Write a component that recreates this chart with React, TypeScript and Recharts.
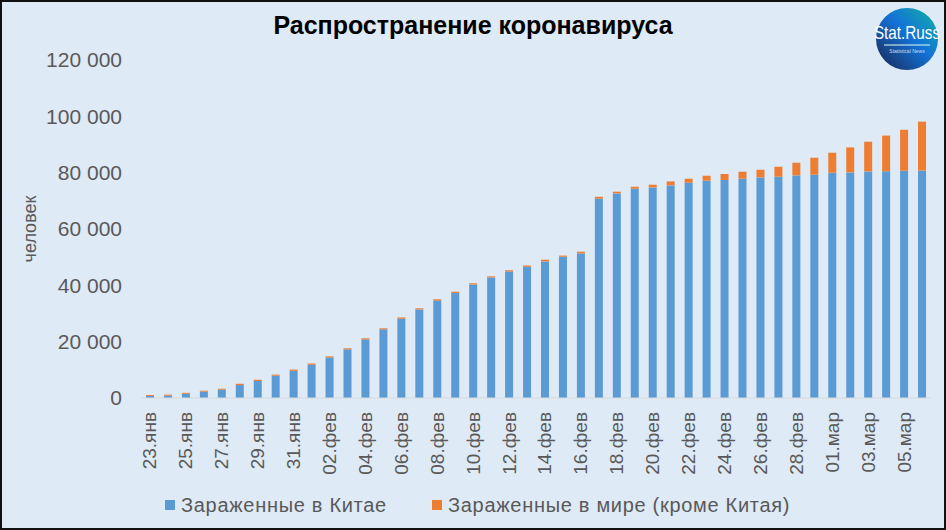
import React from 'react';
import { BarChart, Bar, XAxis, YAxis, Legend } from 'recharts';

// даты (23 янв – 06 мар 2020)
const dates = [
    '23.янв', '24.янв', '25.янв', '26.янв', '27.янв', '28.янв', '29.янв', '30.янв', '31.янв',
    '01.фев', '02.фев', '03.фев', '04.фев', '05.фев', '06.фев', '07.фев', '08.фев', '09.фев',
    '10.фев', '11.фев', '12.фев', '13.фев', '14.фев', '15.фев', '16.фев', '17.фев', '18.фев',
    '19.фев', '20.фев', '21.фев', '22.фев', '23.фев', '24.фев', '25.фев', '26.фев', '27.фев',
    '28.фев', '29.фев', '01.мар', '02.мар', '03.мар', '04.мар', '05.мар', '06.мар',
];

const chinaCases = [
    700, 850, 1500, 2240, 2950, 4600, 6030, 7900, 9650,
    11800, 14400, 17260, 20800, 24350, 28150, 31450, 34600, 37300,
    40330, 42810, 44940, 46600, 48500, 50160, 51340, 70750, 72640,
    74300, 74770, 75480, 76430, 77150, 77400, 77850, 78320, 78560,
    79030, 79270, 79980, 80100, 80450, 80500, 80690, 80720,
];

const worldCases = [
    350, 350, 350, 350, 350, 450, 450, 400, 450,
    450, 400, 400, 400, 400, 450, 400, 450, 450,
    400, 400, 400, 450, 600, 400, 600, 700, 600,
    710, 950, 1420, 1420, 1770, 2130, 2480, 2720, 3550,
    4500, 6030, 7100, 8870, 10530, 12660, 14550, 17390,
];

const yTicks = [0, 20000, 40000, 60000, 80000, 100000, 120000];

const data = dates.map((d, i) => ({ date: d, china: chinaCases[i], world: worldCases[i] }));

const FONT = '"Liberation Sans", Arial, sans-serif';
const GREY = '#595959';
const BLUE = '#5b9bd5';
const ORANGE = '#ed7d31';

const fmt = (v: number) => String(v).replace(/\B(?=(\d{3})+(?!\d))/g, ' ');

const DateTick = (props: any) => {
    const { x, y, payload } = props;
    return (
        <text
            x={x}
            y={y}
            transform={`rotate(-90 ${x} ${y})`}
            textAnchor="end"
            dominantBaseline="central"
            fontSize={19}
            fontFamily={FONT}
            fill={GREY}
        >
            {payload.value}
        </text>
    );
};

const YTitle = () => (
    <text
        x={30}
        y={229}
        transform="rotate(-90 30 229)"
        textAnchor="middle"
        dominantBaseline="central"
        fontSize={18}
        fontFamily={FONT}
        fill={GREY}
    >
        человек
    </text>
);

// легенда с позициями как в оригинале
const LegendBox = (props: any) => {
    const items = props.payload || [];
    const lefts = [165, 432];
    return (
        <div style={{ position: 'relative', height: 30, width: 946 }}>
            {items.map((it: any, i: number) => (
                <React.Fragment key={it.value}>
                    <div style={{ position: 'absolute', left: lefts[i], top: 10, width: 10, height: 10, background: it.color }} />
                    <div
                        style={{
                            position: 'absolute', left: lefts[i] + 16, top: 5, fontSize: 20, lineHeight: '20px',
                            color: GREY, letterSpacing: 0.7, whiteSpace: 'nowrap', fontFamily: FONT,
                        }}
                    >
                        {it.value}
                    </div>
                </React.Fragment>
            ))}
        </div>
    );
};

const Logo = () => (
    <svg width={66} height={66} style={{ position: 'absolute', left: 874, top: 6 }}>
        <defs>
            <linearGradient id="lg" x1="1" y1="0" x2="0" y2="1">
                <stop offset="0" stopColor="#12b3a0" />
                <stop offset="0.45" stopColor="#1273d8" />
                <stop offset="1" stopColor="#1b2450" />
            </linearGradient>
        </defs>
        <circle cx={33} cy={33} r={31} fill="url(#lg)" />
        <text x={33} y={33} textAnchor="middle" fontSize={18} fontFamily={FONT} fill="#fff" transform="translate(33 0) scale(0.85 1) translate(-33 0)">
            Stat.Russ
        </text>
        <line x1={10} y1={39} x2={56} y2={39} stroke="#dfe" strokeWidth={1} />
        <text x={33} y={47} textAnchor="middle" fontSize={5} fontFamily={FONT} fill="#cde">
            Statistical News
        </text>
    </svg>
);

const App: React.FC = () => {
    return (
        <div style={{ position: 'absolute', left: 0, top: 0, width: 946, height: 530, background: '#deeaf6', fontFamily: FONT }}>
            <div style={{ position: 'absolute', left: 0, top: 11, width: 946, textAlign: 'center', fontSize: 25, fontWeight: 'bold', color: '#000' }}>
                Распространение коронавируса
            </div>
            <Logo />
            <BarChart width={946} height={530} data={data} margin={{ top: 60, right: 15, bottom: 20, left: 0 }} barSize={8}>
                <XAxis
                    dataKey="date"
                    interval={1}
                    tick={<DateTick />}
                    tickLine={false}
                    tickSize={0}
                    tickMargin={14}
                    height={82}
                    axisLine={{ stroke: '#d9d9d9' }}
                />
                <YAxis
                    domain={[0, 120000]}
                    ticks={yTicks}
                    tickFormatter={fmt}
                    axisLine={false}
                    tickLine={false}
                    tickSize={0}
                    tickMargin={19}
                    width={141}
                    tick={{ fontSize: 21, fill: GREY, fontFamily: FONT }}
                    label={<YTitle />}
                />
                <Legend height={30} wrapperStyle={{ left: 0, top: 490, width: 946 }} content={<LegendBox />} />
                <Bar dataKey="china" name="Зараженные в Китае" stackId="a" fill={BLUE} isAnimationActive={false} />
                <Bar dataKey="world" name="Зараженные в мире (кроме Китая)" stackId="a" fill={ORANGE} isAnimationActive={false} />
            </BarChart>
            <div style={{ position: 'absolute', left: 0, top: 0, width: 946, height: 530, border: '2px solid #111', boxSizing: 'border-box', pointerEvents: 'none' }} />
        </div>
    );
};

export default App;
